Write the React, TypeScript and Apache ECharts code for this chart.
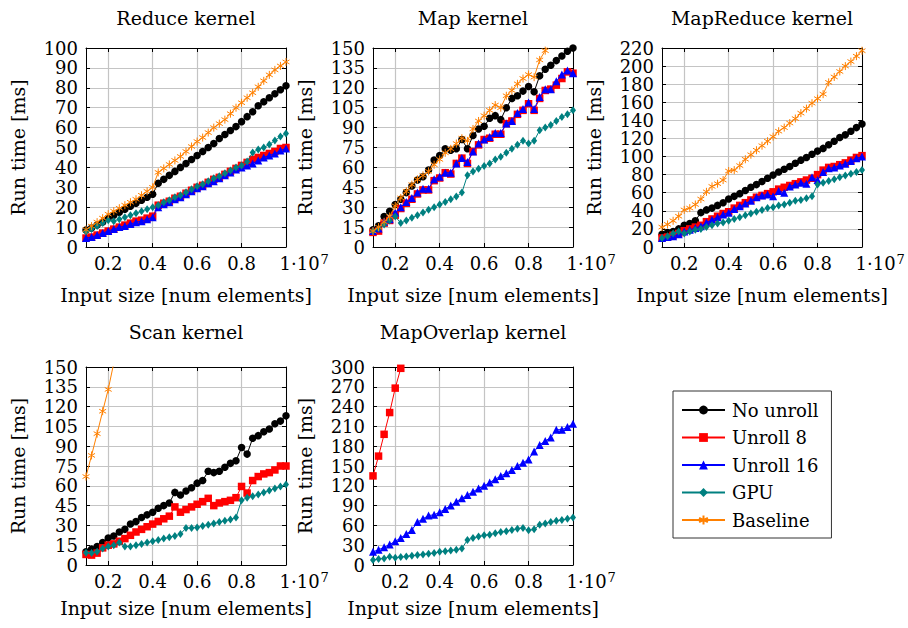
import React, { useEffect, useRef } from "react";
import * as echarts from "echarts";

// ---------------- data ----------------
const X = [
  1000000, 1250000, 1500000, 1750000, 2000000, 2250000, 2500000, 2750000, 3000000, 3250000,
  3500000, 3750000, 4000000, 4250000, 4500000, 4750000, 5000000, 5250000, 5500000, 5750000,
  6000000, 6250000, 6500000, 6750000, 7000000, 7250000, 7500000, 7750000, 8000000, 8250000,
  8500000, 8750000, 9000000, 9250000, 9500000, 9750000, 10000000,
];
const X_TICKS = [2000000, 4000000, 6000000, 8000000, 10000000];
// the last tick label "1" is drawn together with the scale factor "·10^7"
const X_TICK_LABELS = ["0.2", "0.4", "0.6", "0.8", ""];
const X_SCALE_TEXT = "1·10";
const X_SCALE_EXP = "7";

const SERIES_NAMES = ["No unroll", "Unroll 8", "Unroll 16", "GPU", "Baseline"];
const TITLES = ["Reduce kernel", "Map kernel", "MapReduce kernel", "Scan kernel", "MapOverlap kernel"];
const Y_MAX = [100, 150, 220, 150, 300];
const Y_STEP = [10, 15, 20, 15, 30];

// Reduce
const reduceNoUnroll = [8.5, 9.5, 11, 12.5, 14.5, 16, 17.5, 19, 20.5, 22, 23.5, 25, 26.5, 32, 34, 36, 38, 40, 42, 44, 46, 48, 50, 52, 54.5, 56.5, 58.5, 60.5, 63, 65.5, 68, 71, 73, 75, 77, 79, 81];
const reduceUnroll8 = [4.5, 5, 6, 7, 8, 9, 10, 11, 12, 13, 13.5, 14.5, 15.5, 21, 22, 23, 24.5, 25.5, 27, 28.5, 30, 31, 32.5, 34, 35, 36.5, 38, 39.5, 41, 42.5, 44, 45, 46, 47, 48, 49.5, 50];
const reduceUnroll16 = [4.5, 5, 6, 7, 8, 9, 10, 10.5, 11.5, 12.5, 13, 14, 15, 20, 21.5, 22.5, 24, 25, 26.5, 28, 29.5, 30.5, 32, 33, 34.5, 36, 37.5, 39, 40, 41, 42, 43.5, 45, 46, 47, 48.5, 49.5];
const reduceGpu = [7.8, 9, 10.5, 12, 13.5, 13, 14, 15, 16, 17, 18, 19, 20, 21, 22.5, 23.5, 25, 26, 27.5, 29, 30.5, 31.5, 33, 34.5, 35.5, 37, 38.5, 40, 41, 43, 47.5, 49, 50, 51.5, 53.5, 55.5, 57];
const reduceBaseline = [8.7, 10.5, 12.5, 14.5, 16.5, 18, 19.5, 21, 22.5, 24, 26, 28, 30, 37.5, 39.5, 41.5, 43.5, 45.5, 48, 50.5, 53, 55, 57.5, 60, 62, 64, 67, 70, 72.5, 75, 77.5, 80.5, 83.5, 86.5, 89, 91, 93];

// Map
const mapNoUnroll = [13, 16, 23, 27, 32, 36, 41, 46, 50.5, 53, 58, 65.5, 69, 74, 73, 74, 81, 74, 84, 89, 91, 97, 99, 96, 105, 112, 114, 117.5, 121, 117, 129, 134, 137, 140.5, 144, 147.5, 150];
const mapUnroll8 = [11, 12, 18, 20, 24, 29, 33, 36, 40, 43, 43, 50, 52, 56, 55, 63, 67, 63, 72, 77, 81, 82, 85, 85, 93, 95, 100, 103, 108, 103, 112, 118, 119, 122, 127, 132, 131];
const mapUnroll16 = [12, 14, 19, 21, 26, 30, 34, 37, 41, 44, 44, 51, 53, 56, 56, 63, 67, 64, 72, 78, 81, 83, 86, 86, 93, 95, 101, 104, 109, 104, 113, 119, 119, 125, 130, 133, 131];
const mapGpu = [12, 14, 17, 20, 23, 18, 20, 22, 24, 26, 28, 30, 32, 34, 36, 38, 41, 54, 57, 59, 61, 63, 66, 68, 71, 74, 77, 80, 78, 80, 88, 90, 92, 95, 98, 100, 103];
const mapBaseline = [12, 15, 19, 23, 31, 37, 42, 47, 51, 54, 57, 62, 66, 71, 74, 78, 82, 80, 89, 95, 99, 103, 107, 105, 114, 118, 123, 127, 130, 128, 141, 148, 155, null, null, null, null];

// MapReduce
const mapReduceNoUnroll = [14, 16, 17, 20, 24, 26, 29, 38, 41, 43, 46, 49, 53, 56, 59, 62.5, 66, 69, 72.5, 76, 79.5, 83, 86, 89, 92.5, 96, 99, 102.5, 106, 109, 113, 117, 121, 124, 128, 132, 136];
const mapReduceUnroll8 = [10, 11, 13, 15, 18, 20, 22, 24, 28, 31, 34, 37, 39, 43, 46, 49, 52, 55, 57, 59, 61, 64, 66, 68, 70, 72, 74, 76, 80, 85, 88, 89, 91, 93, 96, 99, 101];
const mapReduceUnroll16 = [10, 11, 12, 14, 17, 19, 21, 23, 27, 30, 33, 36, 38, 42, 45, 48, 51, 55, 57, 58, 56, 62, 60, 67, 69, 71, 70, 77, 74, 83, 87, 88, 90, 92, 95, 98, 100];
const mapReduceGpu = [10, 12, 15, 17, 15, 17, 19, 20, 22, 24, 26, 27, 29, 31, 33, 35, 37, 39, 41, 43, 44, 46, 47, 49, 51, 52, 54, 56, 69, 71, 73, 75, 77, 79, 81, 83, 85];
const mapReduceBaseline = [22, 25, 29, 34, 41, 43, 47, 53, 61, 67, 70, 74, 84, 85, 90, 97, 102, 107, 112, 117, 122, 128, 132, 137, 142, 148, 153, 159, 164, 169, 182, 188, 194, 200, 205, 211, 217];

// Scan
const scanNoUnroll = [10, 12, 14, 17, 20.5, 22, 25, 27, 31, 33, 36, 38, 40, 43, 45, 47, 55, 53, 56, 58.5, 62, 64, 71, 70, 71, 74, 77, 79, 89, 84, 96, 98, 101, 103, 107, 109, 113];
const scanUnroll8 = [8, 7.5, 9, 13, 15, 16, 18, 20, 22.5, 25, 27, 29, 31, 33, 35, 37, 44, 40, 42, 44, 46, 48, 50.5, 45, 47, 48, 49, 51, 59.5, 54.5, 64, 67, 69, 70, 72, 75, 75];
const scanGpu = [9.3, 9, 10, 12.5, 14, 15, 17, 14, 14, 15, 16, 17, 18, 19, 20, 21, 22, 23.5, 28, 28, 28.5, 29.5, 30.5, 31.5, 32.5, 33.5, 34.5, 36, 49, 51, 52, 53.5, 55, 56.5, 58, 59.5, 61];
const scanBaseline = [67, 83, 99.5, 116.5, 133, 153, null, null, null, null, null, null, null, null, null, null, null, null, null, null, null, null, null, null, null, null, null, null, null, null, null, null, null, null, null, null, null];

// MapOverlap
const mapOverlapUnroll8 = [135, 165, 198, 231, 268, 298, null, null, null, null, null, null, null, null, null, null, null, null, null, null, null, null, null, null, null, null, null, null, null, null, null, null, null, null, null, null, null];
const mapOverlapUnroll16 = [20, 23, 27, 31, 36, 41, 47, 53, 65, 70, 75, 76, 80, 85, 90, 96, 101, 106, 111, 116, 120, 125, 130, 135, 139, 144, 150, 155, 160, 172, 182, 188, 193, 205, 205, 209, 214];
const mapOverlapGpu = [7.6, 9, 10, 12.5, 11, 12, 13, 14, 15, 16, 17, 18, 20, 21, 22, 23, 25, 38, 41, 43, 45, 46, 48, 50, 51, 53, 55, 56, 52.5, 54, 61, 63, 65, 67, 68, 70, 72];

const PANEL_DATA: (Array<number | null> | null)[][] = [
  [reduceNoUnroll, reduceUnroll8, reduceUnroll16, reduceGpu, reduceBaseline],
  [mapNoUnroll, mapUnroll8, mapUnroll16, mapGpu, mapBaseline],
  [mapReduceNoUnroll, mapReduceUnroll8, mapReduceUnroll16, mapReduceGpu, mapReduceBaseline],
  [scanNoUnroll, scanUnroll8, null, scanGpu, scanBaseline],
  [null, mapOverlapUnroll8, mapOverlapUnroll16, mapOverlapGpu, null],
];

// ---------------- styling / layout ----------------
const FONT = '"DejaVu Serif", serif';
const GRID_COLOR = "#c4c4c4";
const ASTERISK = "path://M0,-1L0,1M-0.866,-0.5L0.866,0.5M-0.866,0.5L0.866,-0.5";
const STYLES = [
  { color: "#000000", symbol: "circle", size: 7.5 },
  { color: "#ff0000", symbol: "rect", size: 7.5 },
  { color: "#0000ff", symbol: "triangle", size: 8 },
  { color: "#008080", symbol: "diamond", size: [6, 8] },
  { color: "#ff8000", symbol: ASTERISK, size: 8 },
];
const LAYOUT = [
  { left: 86, top: 48, width: 200, height: 199, nameGap: 38, titleY: 17.7 },
  { left: 373, top: 48, width: 200, height: 199, nameGap: 38, titleY: 17.7 },
  { left: 662, top: 48, width: 200, height: 199, nameGap: 38, titleY: 17.7 },
  { left: 86, top: 367, width: 200, height: 198, nameGap: 33, titleY: 331.7 },
  { left: 373, top: 367, width: 200, height: 198, nameGap: 33, titleY: 331.7 },
];

function buildOption() {
  const grid: any[] = [];
  const xAxis: any[] = [];
  const yAxis: any[] = [];
  const series: any[] = [];
  const graphic: any[] = [];
  const black = { color: "#000", width: 1 };
  const tickStyle = { fontFamily: FONT, fontSize: 18, color: "#000" };
  const nameStyle = { fontFamily: FONT, fontSize: 19, color: "#000" };

  LAYOUT.forEach((L, p) => {
    grid.push({ left: L.left, top: L.top, width: L.width, height: L.height, show: false });
    const xCommon = {
      gridIndex: p,
      type: "value",
      min: X[0],
      max: X[X.length - 1],
      axisLine: { show: true, onZero: false, lineStyle: black },
      axisTick: { show: true, inside: true, length: 4, customValues: X_TICKS, lineStyle: black },
    };
    xAxis.push({
      ...xCommon,
      position: "bottom",
      axisLabel: {
        show: true,
        customValues: X_TICKS,
        formatter: (v: number) => {
          const i = X_TICKS.indexOf(v);
          return i >= 0 ? X_TICK_LABELS[i] : "";
        },
        margin: 7,
        ...tickStyle,
      },
      splitLine: { show: true, lineStyle: { color: GRID_COLOR, width: 1.2 } },
      name: "Input size [num elements]",
      nameLocation: "middle",
      nameGap: L.nameGap,
      nameTextStyle: nameStyle,
    });
    xAxis.push({
      ...xCommon,
      position: "top",
      axisLabel: { show: false },
      splitLine: { show: false },
    });
    const yCommon = {
      gridIndex: p,
      type: "value",
      min: 0,
      max: Y_MAX[p],
      interval: Y_STEP[p],
      axisLine: { show: true, onZero: false, lineStyle: black },
      axisTick: { show: true, inside: true, length: 4, lineStyle: black },
    };
    yAxis.push({
      ...yCommon,
      position: "left",
      axisLabel: { show: true, margin: 8, ...tickStyle },
      splitLine: { show: true, lineStyle: { color: GRID_COLOR, width: 1.2 } },
      name: "Run time [ms]",
      nameLocation: "middle",
      nameRotate: 90,
      nameGap: 59,
      nameTextStyle: nameStyle,
    });
    yAxis.push({
      ...yCommon,
      position: "right",
      axisLabel: { show: false },
      splitLine: { show: false },
    });

    PANEL_DATA[p].forEach((arr, s) => {
      if (!arr) return;
      const st = STYLES[s];
      const isStar = s === 4;
      series.push({
        type: "line",
        name: SERIES_NAMES[s],
        xAxisIndex: 2 * p,
        yAxisIndex: 2 * p,
        data: X.map((x, i) => [x, arr[i]]),
        symbol: st.symbol,
        symbolSize: st.size,
        symbolKeepAspect: true,
        showSymbol: true,
        clip: true,
        connectNulls: false,
        lineStyle: { color: st.color, width: 1 },
        itemStyle: isStar
          ? { color: st.color, borderColor: st.color, borderWidth: 1 }
          : { color: st.color, borderWidth: 0 },
        emphasis: { disabled: true },
        z: 2 + s,
      });
    });

    // panel title
    graphic.push({
      type: "text",
      x: L.left + L.width / 2,
      y: L.titleY,
      style: {
        text: TITLES[p],
        font: `19px ${FONT}`,
        fill: "#000",
        align: "center",
        verticalAlign: "middle",
      },
    });
    // last tick label with scale factor: 1·10^7
    const baseY = L.top + L.height + 16;
    graphic.push({
      type: "text",
      x: L.left + L.width - 6.5,
      y: baseY,
      style: { text: X_SCALE_TEXT, font: `18px ${FONT}`, fill: "#000", align: "left", verticalAlign: "middle" },
    });
    graphic.push({
      type: "text",
      x: L.left + L.width + 34.5,
      y: baseY - 4,
      style: { text: X_SCALE_EXP, font: `13px ${FONT}`, fill: "#000", align: "left", verticalAlign: "middle" },
    });
  });

  return {
    animation: false,
    backgroundColor: "#ffffff",
    grid,
    xAxis,
    yAxis,
    series,
    graphic,
    legend: {
      orient: "vertical",
      left: 673,
      top: 391,
      data: SERIES_NAMES,
      itemWidth: 43,
      itemHeight: 11,
      itemGap: 9.5,
      padding: [10, 13, 9, 8],
      borderColor: "#333",
      borderWidth: 1,
      selectedMode: false,
      textStyle: { fontFamily: FONT, fontSize: 18, color: "#000", lineHeight: 18, padding: [0, 0, 0, 2] },
    },
  };
}

export default function App() {
  const ref = useRef<HTMLDivElement>(null);
  useEffect(() => {
    if (!ref.current) return;
    const chart = echarts.init(ref.current, undefined, { renderer: "svg" });
    chart.setOption(buildOption() as any);
    return () => chart.dispose();
  }, []);
  return (
    <div
      ref={ref}
      style={{ position: "fixed", left: 0, top: 0, width: 908, height: 628, background: "#fff" }}
    />
  );
}
